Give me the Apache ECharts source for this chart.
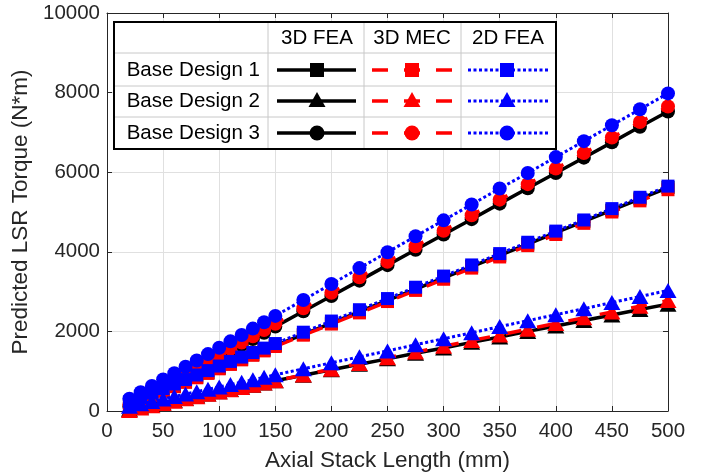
<!DOCTYPE html>
<html>
<head>
<meta charset="utf-8">
<script src="https://cdn.jsdelivr.net/npm/echarts@6/dist/echarts.min.js"></script>
<style>
html,body{margin:0;padding:0;background:#fff;}
#main{width:710px;height:473px;}
</style>
</head>
<body>
<div id="main"></div>
<script>
// Axial stack length (mm)
var lengths = [20,30,40,50,60,70,80,90,100,110,120,130,140,150,175,200,225,250,275,300,325,350,375,400,425,450,475,500];

// Base Design 1 (square)
var fea3D_1 = [165,280,395,510,620,735,850,960,1075,1190,1300,1415,1530,1645,1925,2210,2495,2780,3060,3345,3630,3910,4195,4480,4765,5045,5330,5615];
var mec3D_1 = [160,270,385,495,610,720,835,945,1060,1170,1285,1400,1510,1620,1905,2185,2465,2750,3030,3310,3590,3870,4155,4435,4715,5000,5280,5560];
var fea2D_1 = [230,340,450,565,680,790,905,1015,1130,1245,1355,1470,1580,1695,1980,2260,2545,2825,3110,3390,3670,3955,4240,4520,4800,5085,5370,5650];

// Base Design 2 (triangle)
var fea3D_2 = [45,100,155,210,265,320,375,430,485,540,595,650,705,760,900,1035,1175,1310,1450,1585,1725,1860,2000,2135,2275,2410,2550,2685];
var mec3D_2 = [15,75,130,190,245,305,360,420,475,535,590,650,705,760,905,1050,1195,1340,1480,1625,1770,1910,2055,2200,2345,2490,2630,2775];
var fea2D_2 = [120,180,240,300,365,425,485,545,605,665,725,785,845,910,1060,1210,1360,1510,1665,1815,1965,2120,2270,2420,2570,2725,2875,3030];

// Base Design 3 (circle)
var fea3D_3 = [110,265,420,575,725,880,1035,1190,1345,1500,1655,1810,1965,2120,2505,2890,3275,3665,4050,4435,4820,5210,5595,5980,6365,6750,7140,7525];
var mec3D_3 = [160,320,475,630,785,940,1100,1255,1410,1565,1720,1880,2035,2190,2580,2970,3360,3750,4140,4530,4920,5310,5700,6090,6480,6870,7260,7650];
var fea2D_3 = [310,470,630,790,950,1110,1270,1430,1590,1750,1910,2070,2230,2390,2790,3190,3590,3990,4390,4790,5190,5590,5980,6380,6780,7180,7580,7980];

var methodNames = ['3D FEA', '3D MEC', '2D FEA'];
var designNames = ['Base Design 1', 'Base Design 2', 'Base Design 3'];

var xTicks = [0,50,100,150,200,250,300,350,400,450,500];
var yTicks = [0,2000,4000,6000,8000,10000];

var FONT = '"Liberation Sans", Arial, Helvetica, sans-serif';
var TXT = '#262626';

function pairs(ys){ return lengths.map(function(x,i){ return [x, ys[i]]; }); }

var methodStyle = [
  {color:'#000000', type:'solid', width:3.5},
  {color:'#ff0000', type:[16,16], width:3.5},
  {color:'#0000ff', type:[3,2.5], width:3}
];
var designSymbol = [
  {symbol:'rect', size:13},
  {symbol:'triangle', size:[17,15]},
  {symbol:'circle', size:14}
];
var allData = [
  [fea3D_1, fea3D_2, fea3D_3],
  [mec3D_1, mec3D_2, mec3D_3],
  [fea2D_1, fea2D_2, fea2D_3]
];

var series = [];
for (var m = 0; m < 3; m++) {
  for (var d = 0; d < 3; d++) {
    series.push({
      name: methodNames[m] + ' ' + designNames[d],
      type: 'line',
      data: pairs(allData[m][d]),
      symbol: designSymbol[d].symbol,
      symbolSize: designSymbol[d].size,
      showSymbol: true,
      showAllSymbol: true,
      itemStyle: {color: methodStyle[m].color, borderWidth: 0},
      lineStyle: {color: methodStyle[m].color, type: methodStyle[m].type, width: methodStyle[m].width},
      z: 2 + m,
      animation: false,
      silent: true
    });
  }
}

// ---- table legend via graphic ----
var L = {x0:114, x1:556, y0:22, y1:149, cols:[268,364,461], rows:[53,86,117]};
var rowY = [70, 101, 133];
var headX = [317, 412, 508];
var sample = [
  {x0:277, x1:356, cx:317},
  {x0:372, x1:453, cx:412},
  {x0:468, x1:548, cx:507}
];
var g = [];
g.push({type:'rect', shape:{x:L.x0, y:L.y0, width:L.x1-L.x0, height:L.y1-L.y0}, style:{fill:'#fff', stroke:null}, z:100});
L.cols.forEach(function(cx){
  g.push({type:'line', shape:{x1:cx, y1:L.y0, x2:cx, y2:L.y1}, style:{stroke:'#c8c8c8', lineWidth:1}, z:101});
});
L.rows.forEach(function(ry){
  g.push({type:'line', shape:{x1:L.x0, y1:ry, x2:L.x1, y2:ry}, style:{stroke:'#c8c8c8', lineWidth:1}, z:101});
});
g.push({type:'rect', shape:{x:L.x0, y:L.y0, width:L.x1-L.x0, height:L.y1-L.y0}, style:{fill:null, stroke:'#000', lineWidth:2}, z:105});
methodNames.forEach(function(t,i){
  g.push({type:'text', x:headX[i], y:38, style:{text:t, fill:'#000', font:'20.5px ' + FONT, textAlign:'center', textVerticalAlign:'middle'}, z:106});
});
designNames.forEach(function(t,i){
  g.push({type:'text', x:260, y:rowY[i], style:{text:t, fill:'#000', font:'20.5px ' + FONT, textAlign:'right', textVerticalAlign:'middle'}, z:106});
});
for (var mm = 0; mm < 3; mm++) {
  for (var dd = 0; dd < 3; dd++) {
    var s = sample[mm], cy = rowY[dd], col = methodStyle[mm].color;
    g.push({type:'line', shape:{x1:s.x0, y1:cy, x2:s.x1, y2:cy},
      style:{stroke:col, lineWidth:methodStyle[mm].width, lineDash: mm===0 ? null : methodStyle[mm].type}, z:106});
    if (dd === 0) {
      g.push({type:'rect', shape:{x:s.cx-7, y:cy-7, width:14, height:14}, style:{fill:col}, z:107});
    } else if (dd === 1) {
      g.push({type:'polygon', shape:{points:[[s.cx, cy-9],[s.cx-8.5, cy+6],[s.cx+8.5, cy+6]]}, style:{fill:col}, z:107});
    } else {
      g.push({type:'circle', shape:{cx:s.cx, cy:cy, r:7.5}, style:{fill:col}, z:107});
    }
  }
}

var chart = echarts.init(document.getElementById('main'), null, {renderer:'canvas'});
var axisCommon = {
  axisLine:{show:true, onZero:false, lineStyle:{color:TXT, width:1}},
  axisTick:{show:true, inside:true, length:5, lineStyle:{color:TXT, width:1}}
};
function plain(v){ return String(v); }
chart.setOption({
  animation: false,
  backgroundColor: '#fff',
  grid: {left:107, right:42, top:13, bottom:62, containLabel:false, outerBoundsMode:'none', show:false},
  xAxis: [
    Object.assign({
      type:'value', min:xTicks[0], max:xTicks[xTicks.length-1], interval:xTicks[1]-xTicks[0],
      position:'bottom',
      name:'Axial Stack Length (mm)', nameLocation:'middle', nameGap:38,
      nameTextStyle:{fontFamily:FONT, fontSize:22.5, color:TXT},
      axisLabel:{fontFamily:FONT, fontSize:20.5, color:TXT, margin:10, formatter:plain},
      splitLine:{show:true, lineStyle:{color:'#e0e0e0', width:1}}
    }, axisCommon),
    Object.assign({
      type:'value', min:xTicks[0], max:xTicks[xTicks.length-1], interval:xTicks[1]-xTicks[0],
      position:'top', axisLabel:{show:false}, splitLine:{show:false}
    }, axisCommon)
  ],
  yAxis: [
    Object.assign({
      type:'value', min:yTicks[0], max:yTicks[yTicks.length-1], interval:yTicks[1]-yTicks[0],
      position:'left',
      name:'Predicted LSR Torque (N*m)', nameLocation:'middle', nameGap:58,
      nameTextStyle:{fontFamily:FONT, fontSize:22.5, color:TXT},
      axisLabel:{fontFamily:FONT, fontSize:20.5, color:TXT, margin:7, formatter:plain},
      splitLine:{show:true, lineStyle:{color:'#e0e0e0', width:1}}
    }, axisCommon),
    Object.assign({
      type:'value', min:yTicks[0], max:yTicks[yTicks.length-1], interval:yTicks[1]-yTicks[0],
      position:'right', axisLabel:{show:false}, splitLine:{show:false}
    }, axisCommon)
  ],
  series: series,
  graphic: g
});
</script>
</body>
</html>
